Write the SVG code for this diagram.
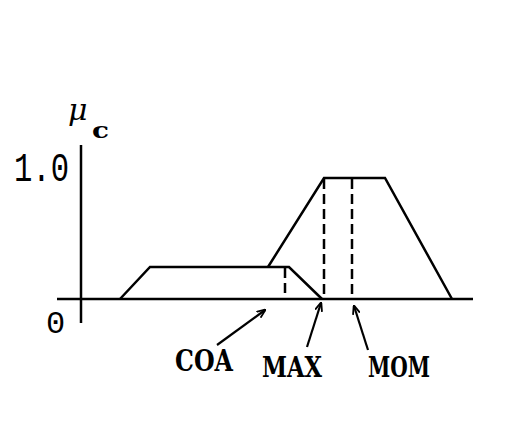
<svg xmlns="http://www.w3.org/2000/svg" width="520" height="443" viewBox="0 0 520 443">
<defs>
<style>
.ln{fill:none;stroke:#000;stroke-width:2.5;stroke-linejoin:miter}
.ds{fill:none;stroke:#000;stroke-width:2.5;stroke-dasharray:10 5}
.ar{fill:none;stroke:#000;stroke-width:2.2}
.t{font-family:"Liberation Mono","Courier New",monospace;fill:#000}
.s{font-family:"DejaVu Serif","Liberation Serif",serif;fill:#000}
.b{font-weight:bold}
</style>
<marker id="ah" viewBox="0 0 10 10" refX="9" refY="5" markerWidth="9" markerHeight="9" orient="auto" markerUnits="userSpaceOnUse">
<path d="M0,1 L10,5 L0,9" fill="none" stroke="#000" stroke-width="2"/>
</marker>
</defs>
<rect width="520" height="443" fill="#fff"/>
<g id="axes">
<line class="ln" x1="81" y1="145" x2="81" y2="323"/>
<line class="ln" x1="57" y1="299" x2="473" y2="299"/>
</g>
<g id="small-trapezoid">
<polyline class="ln" points="120,299 150,267 289,267 322,299"/>
</g>
<g id="big-trapezoid">
<polyline class="ln" points="268,267 324,178 385,178 452,299"/>
</g>
<g id="dashes">
<line class="ds" x1="285" y1="268" x2="285" y2="299"/>
<line class="ds" x1="324" y1="179" x2="324" y2="299" stroke-width="3"/>
<line class="ds" x1="352" y1="179" x2="352" y2="299"/>
</g>
<g id="labels">
<text class="t" x="14" y="181" font-size="40" textLength="55" lengthAdjust="spacingAndGlyphs">1.0</text>
<text class="t" x="46" y="333" font-size="32">0</text>
<text class="s" x="68" y="120" font-style="italic" font-size="30">μ</text>
<text class="s b" x="92" y="138" font-size="23" textLength="17" lengthAdjust="spacingAndGlyphs">c</text>
</g>
<g id="connectors">
<line class="ar" x1="217" y1="345" x2="265" y2="310" marker-end="url(#ah)"/>
<line class="ar" x1="307" y1="347" x2="321" y2="303" marker-end="url(#ah)"/>
<line class="ar" x1="368" y1="350" x2="354" y2="306" marker-end="url(#ah)"/>
</g>
<g id="arrow-labels">
<text class="s b" x="175" y="371" font-size="29" textLength="58" lengthAdjust="spacingAndGlyphs">COA</text>
<text class="s b" x="262" y="377" font-size="28" textLength="60" lengthAdjust="spacingAndGlyphs">MAX</text>
<text class="s b" x="368" y="377" font-size="28" textLength="62" lengthAdjust="spacingAndGlyphs">MOM</text>
</g>
</svg>
